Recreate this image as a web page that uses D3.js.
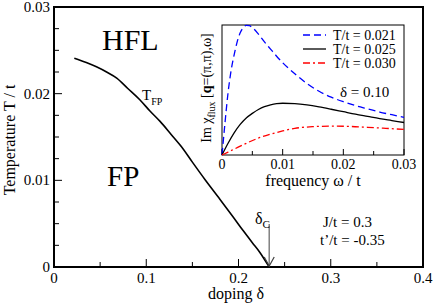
<!DOCTYPE html>
<html><head><meta charset="utf-8">
<script src="https://cdn.jsdelivr.net/npm/d3@7"></script>
<style>body{margin:0;background:#fff}</style>
</head><body><svg id="c" width="436" height="306" font-family="'Liberation Serif', 'Times New Roman', serif"></svg>
<script>
// main phase-diagram curve T_FP(delta)
const dopingValues = [0.022,0.035,0.046,0.057,0.068,0.080,0.093,0.104,0.115,0.127,0.138,0.150,0.1636,0.180,0.194,0.205,0.215,0.223,0.2268,0.2333];
const tempValues   = [0.0241,0.0236,0.0231,0.0225,0.0218,0.0206,0.0193,0.0180,0.0168,0.0153,0.0139,0.0121,0.0101,0.0078,0.0058,0.0042,0.0028,0.0017,0.0011,0.0];
const mainXTicks = [0,0.1,0.2,0.3,0.4];
const mainYTicks = [0,0.01,0.02,0.03];
const deltaC = 0.2333;
// inset: Im chi vs frequency
const freq021 = [0,0.0005,0.001,0.0015,0.002,0.0025,0.003,0.0035,0.004,0.0045,0.005,0.006,0.007,0.008,0.009,0.010,0.012,0.014,0.016,0.018,0.020,0.022,0.024,0.026,0.028,0.030];
const chi021  = [0,0.25,0.48,0.65,0.77,0.87,0.94,0.98,0.997,0.995,0.98,0.93,0.87,0.815,0.76,0.71,0.625,0.55,0.49,0.445,0.41,0.38,0.355,0.33,0.31,0.29];
const freq025 = [0,0.001,0.002,0.003,0.004,0.005,0.006,0.007,0.008,0.009,0.010,0.012,0.014,0.016,0.018,0.020,0.022,0.024,0.026,0.028,0.030];
const chi025  = [0,0.09,0.17,0.235,0.285,0.32,0.35,0.372,0.386,0.395,0.398,0.395,0.385,0.37,0.352,0.333,0.314,0.297,0.28,0.265,0.25];
const freq030 = [0,0.002,0.004,0.006,0.008,0.010,0.012,0.015,0.018,0.021,0.024,0.027,0.030];
const chi030  = [0,0.045,0.09,0.13,0.16,0.185,0.205,0.218,0.222,0.22,0.213,0.205,0.197];
const insetXTicks = [0,0.01,0.02,0.03];
const legendLabels = ["T/t = 0.021","T/t = 0.025","T/t = 0.030"];
const seriesColors = ["#0000ff","#000000","#ff0000"];
const seriesDash = ["7,4","none","7,3,2,3"];

const svg = d3.select("#c");
const x = d3.scaleLinear().domain([0,0.4]).range([54,423]);
const y = d3.scaleLinear().domain([0,0.03]).range([267,7]);

// main frame
svg.append("rect").attr("x",54).attr("y",7).attr("width",369).attr("height",260)
  .attr("fill","none").attr("stroke","#000").attr("stroke-width",2);

// main ticks (inside)
const gx = svg.append("g");
d3.range(0,0.4001,0.05).forEach((v,i)=>{
  const major = i%2===0;
  gx.append("line").attr("x1",x(v)).attr("x2",x(v)).attr("y1",267).attr("y2",267-(major?8:5))
    .attr("stroke","#000").attr("stroke-width",1);
});
mainXTicks.forEach(v=>{
  gx.append("text").attr("x",x(v)).attr("y",283).attr("text-anchor","middle").attr("font-size",15).text(v===0?"0":String(v));
});
const gy = svg.append("g");
d3.range(0,0.03001,0.0025).forEach((v,i)=>{
  const major = i%4===0;
  gy.append("line").attr("x1",54).attr("x2",54+(major?8:5)).attr("y1",y(v)).attr("y2",y(v))
    .attr("stroke","#000").attr("stroke-width",1);
});
mainYTicks.forEach(v=>{
  gy.append("text").attr("x",50).attr("y",y(v)+5).attr("text-anchor","end").attr("font-size",15).text(v===0?"0":String(v));
});

// axis labels
svg.append("text").attr("transform","translate(15,140) rotate(-90)").attr("text-anchor","middle")
  .attr("font-size",16).text("Temperature T / t");
svg.append("text").attr("x",236).attr("y",299).attr("text-anchor","middle").attr("font-size",16).text("doping δ");

// main curve
const line = d3.line().x(d=>x(d[0])).y(d=>y(d[1])).curve(d3.curveMonotoneX);
svg.append("path").datum(dopingValues.map((d,i)=>[d,tempValues[i]])).attr("d",line)
  .attr("fill","none").attr("stroke","#000").attr("stroke-width",1.6);

// region labels
svg.append("text").attr("x",102).attr("y",50).attr("font-size",30).text("HFL");
svg.append("text").attr("x",107).attr("y",186).attr("font-size",29).text("FP");
const tfp = svg.append("text").attr("x",142).attr("y",100).attr("font-size",15);
tfp.append("tspan").text("T");
tfp.append("tspan").attr("font-size",10).attr("dy",5).text("FP");

// delta_c arrow
svg.append("line").attr("x1",x(deltaC)).attr("x2",x(deltaC)).attr("y1",224).attr("y2",266)
  .attr("stroke","#808080").attr("stroke-width",1.5);
svg.append("path").attr("d",`M${x(deltaC)-5},${257} L${x(deltaC)},${266} L${x(deltaC)+5},${257}`)
  .attr("fill","none").attr("stroke","#404040").attr("stroke-width",1.2);
const dc = svg.append("text").attr("x",255).attr("y",224).attr("font-size",16);
dc.append("tspan").text("δ");
dc.append("tspan").attr("font-size",11).attr("dy",4).text("C");

svg.append("text").attr("x",323).attr("y",227).attr("font-size",15).text("J/t = 0.3");
svg.append("text").attr("x",320).attr("y",245).attr("font-size",15).text("t’/t = -0.35");

// ---------- inset ----------
const ix = d3.scaleLinear().domain([0,0.03]).range([222,404]);
const iy = d3.scaleLinear().domain([0,1]).range([155,25]);
svg.append("rect").attr("x",222).attr("y",25).attr("width",182).attr("height",130)
  .attr("fill","#fff").attr("stroke","#000").attr("stroke-width",1);
d3.range(0,0.03001,0.005).forEach((v,i)=>{
  const major = i%2===0;
  svg.append("line").attr("x1",ix(v)).attr("x2",ix(v)).attr("y1",155).attr("y2",155-(major?6:4))
    .attr("stroke","#000").attr("stroke-width",1);
});
insetXTicks.forEach(v=>{
  svg.append("text").attr("x",ix(v)).attr("y",169).attr("text-anchor","middle").attr("font-size",14).text(v===0?"0":String(v));
});
svg.append("text").attr("x",313).attr("y",186).attr("text-anchor","middle").attr("font-size",16).text("frequency ω / t");
const yl = svg.append("text").attr("transform","translate(211,88) rotate(-90)").attr("text-anchor","middle").attr("font-size",14);
yl.append("tspan").text("Im χ");
yl.append("tspan").attr("font-size",10).attr("dy",4).text("flux");
yl.append("tspan").attr("dy",-4).text(" [");
yl.append("tspan").attr("font-weight","bold").text("q");
yl.append("tspan").text("=(π,π),ω]");

const iline = d3.line().x(d=>ix(d[0])).y(d=>iy(d[1])).curve(d3.curveMonotoneX);
const series = [[freq021,chi021],[freq025,chi025],[freq030,chi030]];
series.forEach((s,k)=>{
  svg.append("path").datum(s[0].map((f,i)=>[f,s[1][i]])).attr("d",iline)
    .attr("fill","none").attr("stroke",seriesColors[k]).attr("stroke-width",1.3)
    .attr("stroke-dasharray",seriesDash[k]);
});
// legend
legendLabels.forEach((lab,k)=>{
  const yy = 35 + k*14;
  svg.append("line").attr("x1",303).attr("x2",326).attr("y1",yy).attr("y2",yy)
    .attr("stroke",seriesColors[k]).attr("stroke-width",1.3).attr("stroke-dasharray",seriesDash[k]);
  svg.append("text").attr("x",333).attr("y",yy+5).attr("font-size",14).text(lab);
});
svg.append("text").attr("x",340).attr("y",97).attr("font-size",15).text("δ = 0.10");
</script></body></html>
